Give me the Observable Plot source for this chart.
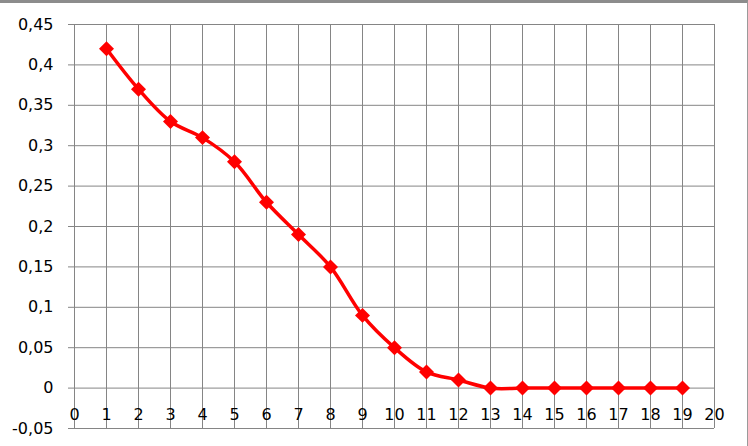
<!DOCTYPE html>
<html><head><meta charset="utf-8">
<script src="https://cdn.jsdelivr.net/npm/d3@7"></script>
<script src="https://cdn.jsdelivr.net/npm/@observablehq/plot@0.6"></script>
<style>
html,body{margin:0;padding:0;background:#fff;}
#wrap{position:relative;width:748px;height:446px;overflow:hidden;}
#border{position:absolute;left:0;top:0;width:748px;height:446px;box-sizing:border-box;border-top:3px solid #8c8c8c;border-right:1px solid #9a9a9a;pointer-events:none;}
svg{display:block;}
</style></head><body>
<div id="wrap"><div id="chart"></div><div id="border"></div></div>
<script>
const xValues = [1,2,3,4,5,6,7,8,9,10,11,12,13,14,15,16,17,18,19];
const yValues = [0.42,0.37,0.33,0.31,0.28,0.23,0.19,0.15,0.09,0.05,0.02,0.01,0,0,0,0,0,0,0];
const xTicks = [0,1,2,3,4,5,6,7,8,9,10,11,12,13,14,15,16,17,18,19,20];
const yTicks = [-0.05,0,0.05,0.1,0.15,0.2,0.25,0.3,0.35,0.4,0.45];
const yTickLabels = ["-0,05","0","0,05","0,1","0,15","0,2","0,25","0,3","0,35","0,4","0,45"];

const data = xValues.map((x, i) => ({x, y: yValues[i]}));

const chart = Plot.plot({
  width: 748, height: 446,
  marginLeft: 74, marginRight: 34, marginTop: 24, marginBottom: 18,
  style: {fontFamily: "DejaVu Sans", fontSize: "16px", color: "#000", background: "#fff"},
  x: {domain: [0, 20], axis: null, label: null},
  y: {domain: [-0.05, 0.45], axis: null, label: null},
  marks: [
    Plot.gridX(xTicks, {stroke: "#858585", strokeOpacity: 1, strokeWidth: 1}),
    Plot.gridY(yTicks, {stroke: "#858585", strokeOpacity: 1, strokeWidth: 1}),
    Plot.axisY(yTicks, {anchor: "left", label: null, tickSize: 6, tickPadding: 15, stroke: "#858585", fill: "#000", fontSize: 16,
      tickFormat: d => yTickLabels[yTicks.indexOf(d)]}),
    Plot.text(xTicks, {x: d => d, y: () => 0, dy: 27, text: d => String(d), fontSize: 16, fill: "#000"}),
    Plot.line(data, {x: "x", y: "y", stroke: "#ff0000", strokeWidth: 3.5, curve: "catmull-rom"}),
    Plot.dot(data, {x: "x", y: "y", symbol: "diamond2", r: 6.75, fill: "#ff0000", stroke: "none"})
  ]
});
document.getElementById("chart").appendChild(chart);
</script>
</body></html>
